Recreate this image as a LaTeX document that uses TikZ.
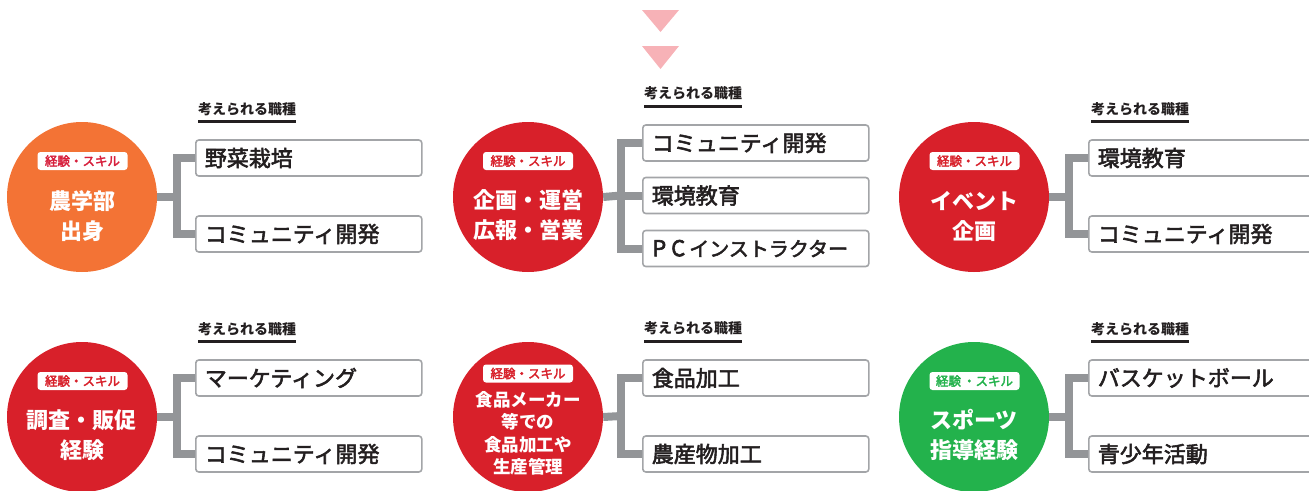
\documentclass[tikz,border=0pt]{standalone}
\usepackage{fontspec}
\setmainfont{Noto Sans CJK JP}
\newfontfamily\jpmed{Noto Sans CJK JP}[FakeBold=2.5]
\definecolor{orangec}{HTML}{F37335}
\definecolor{redc}{HTML}{D8202A}
\definecolor{greenc}{HTML}{23B24C}
\definecolor{pinkc}{HTML}{F7B2B7}
\definecolor{conngray}{HTML}{939598}
\definecolor{boxgray}{HTML}{A3A5A8}
\definecolor{inkc}{HTML}{231F20}
\definecolor{badgered}{HTML}{D71F3C}
\tikzset{
  circ/.style={circle, minimum size=150pt, inner sep=0pt},
  badge/.style={fill=white, rounded corners=3pt, minimum width=90pt, minimum height=18pt, inner sep=0pt, font=\jpmed\fontsize{12.5pt}{14pt}\selectfont},
  ctext/.style={text=white, align=center, inner sep=0pt, font=\bfseries\fontsize{22pt}{30pt}\selectfont},
  job/.style={draw=boxgray, line width=1.6pt, fill=white, rounded corners=3pt, minimum height=36pt, inner xsep=9pt, inner ysep=0pt, text width=208pt, align=left, anchor=west, text=inkc, font=\jpmed\fontsize{22pt}{26pt}\selectfont},
  hdr/.style={anchor=west, inner sep=0pt, text=inkc, font=\bfseries\fontsize{14pt}{16pt}\selectfont},
  ul/.style={draw=inkc, line width=3.2pt},
  conn/.style={draw=conngray, line width=8pt},
  tri/.style={fill=pinkc}
}
\begin{document}
\begin{tikzpicture}[x=1pt,y=-1pt]
\useasboundingbox (0,0) rectangle (1309,490);
\clip (0,0) rectangle (1309,490);
% triangles
\fill[tri] (642,10) -- (679,10) -- (660.5,32) -- cycle;
\fill[tri] (642,46) -- (679,46) -- (660.5,69) -- cycle;

% ---------- group 1
\node[circ, fill=orangec] (c1) at (82,197) {};
\node[badge, text=badgered] (k1) at (82.5,161) {経験・スキル};
\node[ctext] (t1) at (82,216) {農学部\\出身};
\node[hdr] (h1) at (198,109) {考えられる職種};
\draw[ul] ([yshift=-12.5pt]h1.west) -- ([yshift=-12.5pt]h1.east);
\node[job] (b11) at (195,158) {野菜栽培};
\node[job] (b12) at (195,234) {コミュニティ開発};
\coordinate (j1) at (177,197);
\draw[conn] (c1.east) -- (j1);
\draw[conn] (j1) |- (b11.west);
\draw[conn] (j1) |- (b12.west);

% ---------- group 2
\node[circ, fill=redc] (c2) at (528,197) {};
\node[badge, text=redc] (k2) at (528,161) {経験・スキル};
\node[ctext] (t2) at (528,215.5) {企画・運営\\広報・営業};
\node[hdr] (h2) at (644,93.5) {考えられる職種};
\draw[ul] ([yshift=-13pt]h2.west) -- ([yshift=-13pt]h2.east);
\node[job] (b21) at (642,143) {コミュニティ開発};
\node[job] (b22) at (642,195.5) {環境教育};
\node[job, font=\jpmed\fontsize{20pt}{26pt}\selectfont] (b23) at (642,248.5) {\fontsize{22pt}{26pt}\selectfont\hspace{0.5pt}P\hspace{5pt}C\hspace{4pt}\fontsize{20pt}{26pt}\selectfont インストラクター};
\coordinate (j2) at (621,195.5);
\draw[conn] (c2.east) -- (j2);
\draw[conn] (j2) |- (b21.west);
\draw[conn] (j2) -- (b22.west);
\draw[conn] (j2) |- (b23.west);

% ---------- group 3
\node[circ, fill=redc] (c3) at (974,197) {};
\node[badge, text=redc] (k3) at (974.5,161) {経験・スキル};
\node[ctext] (t3) at (974,216) {イベント\\企画};
\node[hdr] (h3) at (1091,109) {考えられる職種};
\draw[ul] ([yshift=-12.5pt]h3.west) -- ([yshift=-12.5pt]h3.east);
\node[job] (b31) at (1088,158) {環境教育};
\node[job] (b32) at (1088,234) {コミュニティ開発};
\coordinate (j3) at (1069,197);
\draw[conn] (c3.east) -- (j3);
\draw[conn] (j3) |- (b31.west);
\draw[conn] (j3) |- (b32.west);

% ---------- group 4
\node[circ, fill=redc] (c4) at (82,417) {};
\node[badge, text=redc] (k4) at (82.5,381) {経験・スキル};
\node[ctext] (t4) at (82,435) {調査・販促\\経験};
\node[hdr] (h4) at (198,329) {考えられる職種};
\draw[ul] ([yshift=-12.5pt]h4.west) -- ([yshift=-12.5pt]h4.east);
\node[job] (b41) at (195,378) {マーケティング};
\node[job] (b42) at (195,454) {コミュニティ開発};
\coordinate (j4) at (177,417);
\draw[conn] (c4.east) -- (j4);
\draw[conn] (j4) |- (b41.west);
\draw[conn] (j4) |- (b42.west);

% ---------- group 5
\node[circ, fill=redc] (c5) at (528,417) {};
\node[badge, text=redc] (k5) at (528,373.5) {経験・スキル};
\node[ctext, font=\bfseries\fontsize{17.5pt}{22.5pt}\selectfont] (t5) at (528,433.5) {食品メーカー\\等での\\食品加工や\\生産管理};
\node[hdr] (h5) at (644,328.5) {考えられる職種};
\draw[ul] ([yshift=-13pt]h5.west) -- ([yshift=-13pt]h5.east);
\node[job] (b51) at (642,378) {食品加工};
\node[job] (b52) at (642,454) {農産物加工};
\coordinate (j5) at (621,416);
\draw[conn] (c5.east) -- (j5);
\draw[conn] (j5) |- (b51.west);
\draw[conn] (j5) |- (b52.west);

% ---------- group 6
\node[circ, fill=greenc] (c6) at (974,417) {};
\node[badge, text=greenc] (k6) at (974.5,381) {経験\,・スキル};
\node[ctext] (t6) at (974,435) {スポーツ\\指導経験};
\node[hdr] (h6) at (1091,329) {考えられる職種};
\draw[ul] ([yshift=-12.5pt]h6.west) -- ([yshift=-12.5pt]h6.east);
\node[job] (b61) at (1088,378) {バスケットボール};
\node[job] (b62) at (1088,454) {青少年活動};
\coordinate (j6) at (1069,417);
\draw[conn] (c6.east) -- (j6);
\draw[conn] (j6) |- (b61.west);
\draw[conn] (j6) |- (b62.west);
\end{tikzpicture}
\end{document}
